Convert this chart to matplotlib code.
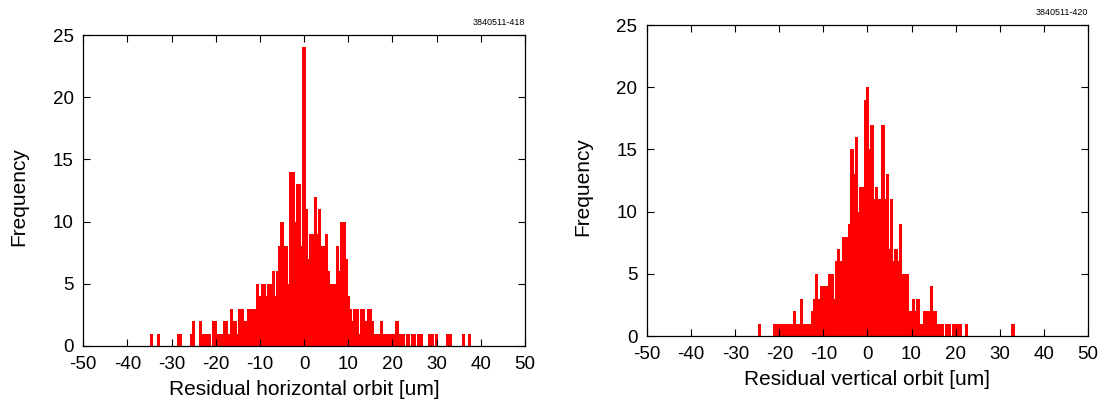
import numpy as np
import matplotlib
matplotlib.use("Agg")
import matplotlib.pyplot as plt

plt.rcParams['font.family'] = ['Liberation Sans', 'DejaVu Sans']
plt.rcParams['axes.unicode_minus'] = False

# Horizontal residuals: counts per 0.5 um bin, first bin centre at h_start
h_start = -35.0
h_counts = [
    0, 1, 0, 0, 1, 0, 0, 0, 0, 0,      # -35.0 .. -30.5
    0, 0, 0, 1, 1, 0, 0, 0, 0, 1,      # -30.0 .. -25.5
    2, 0, 0, 2, 1, 1, 1, 1, 0, 2,      # -25.0 .. -20.5
    2, 1, 1, 1, 2, 2, 1, 3, 2, 2,      # -20.0 .. -15.5
    1, 3, 3, 2, 2, 3, 3, 3, 3, 5,      # -15.0 .. -10.5
    4, 5, 5, 4, 5, 5, 6, 4, 6, 8,      # -10.0 .. -5.5
    10, 8, 8, 5, 14, 14, 10, 13, 13, 8,  # -5.0 .. -0.5
    24, 11, 7, 9, 9, 12, 9, 11, 8, 8,  # 0.0 .. 4.5
    9, 6, 5, 5, 5, 8, 6, 10, 10, 7,    # 5.0 .. 9.5
    4, 3, 2, 3, 3, 1, 3, 3, 2, 3,      # 10.0 .. 14.5
    3, 2, 1, 1, 1, 2, 1, 1, 1, 1,      # 15.0 .. 19.5
    1, 1, 2, 1, 1, 1, 0, 1, 0, 1,      # 20.0 .. 24.5
    1, 0, 1, 1, 0, 0, 0, 1, 1, 0,      # 25.0 .. 29.5
    1, 0, 0, 0, 0, 1, 1, 0, 0, 0,      # 30.0 .. 34.5
    0, 0, 1, 0, 0, 1,                  # 35.0 .. 37.5
]

# Vertical residuals: counts per 0.5 um bin, first bin centre at v_start
v_start = -25.0
v_counts = [
    0, 1, 0, 0, 0, 0, 0, 0, 1, 1,      # -25.0 .. -20.5
    1, 1, 1, 1, 1, 1, 1, 2, 1, 1,      # -20.0 .. -15.5
    3, 1, 1, 1, 1, 2, 3, 5, 3, 4,      # -15.0 .. -10.5
    4, 4, 4, 5, 5, 3, 6, 7, 6, 8,      # -10.0 .. -5.5
    8, 8, 9, 15, 13, 16, 10, 12, 12, 19,  # -5.0 .. -0.5
    20, 15, 17, 11, 12, 11, 11, 17, 11, 13,  # 0.0 .. 4.5
    7, 11, 6, 7, 6, 9, 5, 5, 5, 2,     # 5.0 .. 9.5
    2, 3, 2, 3, 1, 1, 2, 2, 2, 4,      # 10.0 .. 14.5
    2, 2, 1, 1, 1, 0, 1, 1, 0, 1,      # 15.0 .. 19.5
    1, 1, 1, 0, 0, 1, 0, 0, 0, 0,      # 20.0 .. 24.5
    0, 0, 0, 0, 0, 0, 0, 0, 0, 0,      # 25.0 .. 29.5
    0, 0, 0, 0, 0, 0, 1,               # 30.0 .. 33.0
]
bin_step = 0.5

x_ticks = [-50, -40, -30, -20, -10, 0, 10, 20, 30, 40, 50]
y_ticks = [0, 5, 10, 15, 20, 25]
x_labels = ["Residual horizontal orbit [um]", "Residual vertical orbit [um]"]
tags = ["3840511-418", "3840511-420"]

fig = plt.figure(figsize=(11.1, 4.07), dpi=100)
ax1 = fig.add_axes([0.075, 0.150, 0.398, 0.764])
ax2 = fig.add_axes([0.583, 0.1744, 0.397, 0.764])

datasets = [(h_start, h_counts), (v_start, v_counts)]
for ax, (start, counts), xl, tag in zip([ax1, ax2], datasets, x_labels, tags):
    centers = start + bin_step * np.arange(len(counts))
    ax.bar(centers, counts, width=0.75, color='#ff0000', linewidth=0)
    ax.set_xlim(-50, 50)
    ax.set_ylim(0, 25)
    ax.set_xticks(x_ticks)
    ax.set_xticklabels([str(t) for t in x_ticks])
    ax.set_yticks(y_ticks)
    ax.tick_params(direction='in', length=5, width=0.8, top=True, right=True,
                   labelsize=13.5, pad=7, colors='black')
    for s in ax.spines.values():
        s.set_linewidth(0.9)
    ax.set_xlabel(xl, fontsize=15, labelpad=5)
    ax.set_ylabel("Frequency", fontsize=15)
    ax.yaxis.set_label_coords(-0.125, 0.48)
    ax.text(1.0, 1.025, tag, transform=ax.transAxes, ha='right', va='bottom',
            fontsize=6.5)

fig.savefig("out.png", dpi=100)
